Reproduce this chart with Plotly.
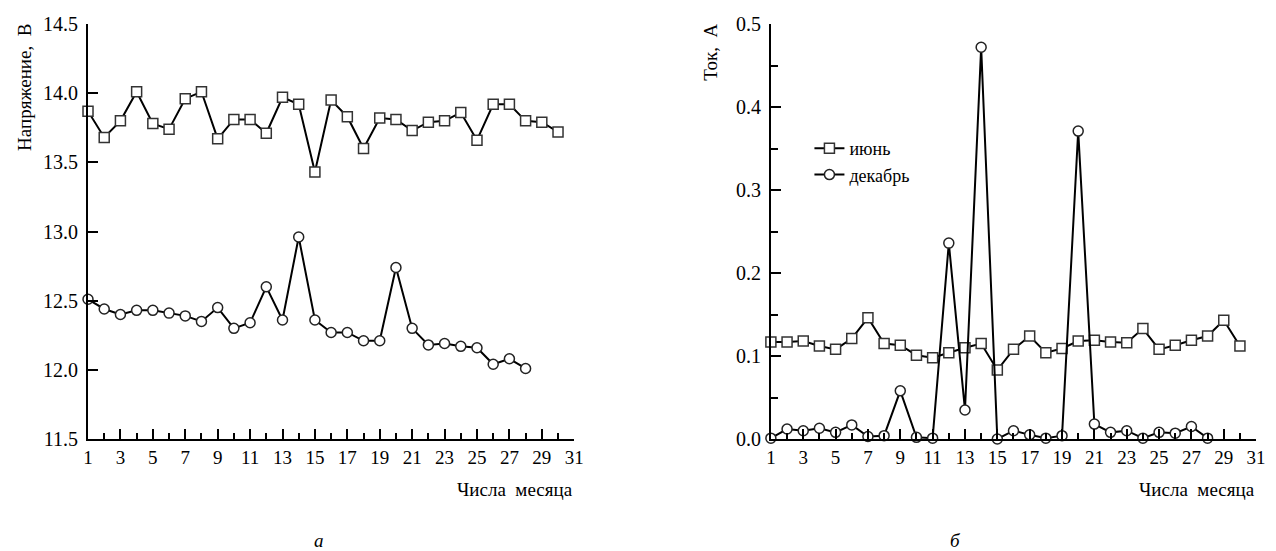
import plotly.graph_objects as go

# ---------------- data ----------------
days_v_jun = list(range(1, 31))
volt_jun = [13.87, 13.68, 13.80, 14.01, 13.78, 13.74, 13.96, 14.01, 13.67, 13.81,
            13.81, 13.71, 13.97, 13.92, 13.43, 13.95, 13.83, 13.60, 13.82, 13.81,
            13.73, 13.79, 13.80, 13.86, 13.66, 13.92, 13.92, 13.80, 13.79, 13.72]
days_v_dec = list(range(1, 29))
volt_dec = [12.51, 12.44, 12.40, 12.43, 12.43, 12.41, 12.39, 12.35, 12.45, 12.30,
            12.34, 12.60, 12.36, 12.96, 12.36, 12.27, 12.27, 12.21, 12.21, 12.74,
            12.30, 12.18, 12.19, 12.17, 12.16, 12.04, 12.08, 12.01]

days_i_jun = list(range(1, 31))
cur_jun = [0.117, 0.117, 0.118, 0.112, 0.108, 0.121, 0.146, 0.115, 0.113, 0.101,
           0.098, 0.104, 0.110, 0.115, 0.083, 0.108, 0.124, 0.104, 0.109, 0.118,
           0.119, 0.117, 0.116, 0.133, 0.108, 0.113, 0.119, 0.124, 0.143, 0.112]
days_i_dec = list(range(1, 29))
cur_dec = [0.001, 0.012, 0.010, 0.013, 0.008, 0.017, 0.003, 0.004, 0.058, 0.002,
           0.001, 0.236, 0.035, 0.472, 0.000, 0.010, 0.005, 0.001, 0.004, 0.371,
           0.018, 0.008, 0.010, 0.001, 0.008, 0.007, 0.015, 0.001]

x_ticks = list(range(1, 32, 2))
name_jun = "июнь"
name_dec = "декабрь"

# ---------------- figure ----------------
W, H = 1276, 551
TOP, BOT = 24, 439
FONT = "Liberation Serif, Times New Roman, serif"
line = dict(color="black", width=2)
sq = dict(symbol="square", size=10, color="white", line=dict(color="#333", width=1.5))
ci = dict(symbol="circle", size=10, color="white", line=dict(color="#222", width=1.5))

fig = go.Figure()
fig.add_trace(go.Scatter(x=days_v_jun, y=volt_jun, mode="lines+markers", line=line, marker=sq,
                         xaxis="x", yaxis="y", showlegend=False, cliponaxis=False))
fig.add_trace(go.Scatter(x=days_v_dec, y=volt_dec, mode="lines+markers", line=line, marker=ci,
                         xaxis="x", yaxis="y", showlegend=False, cliponaxis=False))
fig.add_trace(go.Scatter(x=days_i_jun, y=cur_jun, mode="lines+markers", line=line, marker=sq,
                         xaxis="x2", yaxis="y2", name=name_jun, cliponaxis=False))
fig.add_trace(go.Scatter(x=days_i_dec, y=cur_dec, mode="lines+markers", line=line, marker=ci,
                         xaxis="x2", yaxis="y2", name=name_dec, cliponaxis=False))

def px_x(p):
    return p / W

def px_y(p):
    # paper coords span the plot area (inside margins)
    return (BOT - p) / (BOT - TOP)

xaxis_common = dict(range=[1, 31], tickvals=x_ticks, ticks="inside", ticklen=10, tickwidth=1.5,
                    tickcolor="black", showline=True, linecolor="black", linewidth=2,
                    showgrid=False, zeroline=False, tickfont=dict(family=FONT, size=19, color="black"),
                    minor=dict(dtick=1, tick0=1, ticks="inside", ticklen=6, tickwidth=1.5,
                               tickcolor="black", showgrid=False))
yaxis_common = dict(ticks="inside", ticklen=10, tickwidth=1.5, tickcolor="black",
                    showline=True, linecolor="black", linewidth=2, showgrid=False,
                    zeroline=False, tickfont=dict(family=FONT, size=20, color="black"),
                    tickformat=".1f", ticklabelstandoff=4)

fig.update_layout(
    width=W, height=H,
    margin=dict(l=0, r=0, t=TOP, b=H - BOT),
    paper_bgcolor="white", plot_bgcolor="white",
    font=dict(family=FONT, color="black"),
    xaxis=dict(domain=[px_x(84), px_x(576)], anchor="y", **xaxis_common),
    yaxis=dict(domain=[0, 1], anchor="x", range=[11.5, 14.5], dtick=0.5, tick0=11.5, **yaxis_common),
    xaxis2=dict(domain=[px_x(775), px_x(1266)], anchor="y2", **xaxis_common),
    yaxis2=dict(domain=[0, 1], anchor="x2", range=[0, 0.5], dtick=0.1, tick0=0,
                minor=dict(dtick=0.05, tick0=0, ticks="inside", ticklen=7, tickwidth=1.5,
                           tickcolor="black", showgrid=False),
                **yaxis_common),
    legend=dict(x=px_x(814), y=px_y(130), xanchor="left", yanchor="top",
                font=dict(family=FONT, size=18, color="black"), bgcolor="rgba(0,0,0,0)",
                itemwidth=30, tracegroupgap=0),
    showlegend=True,
)

ann_font = dict(family=FONT, size=19, color="black")
fig.add_annotation(text="Напряжение,  В", x=px_x(7), y=px_y(22), xref="paper", yref="paper",
                   xanchor="left", yanchor="top", textangle=-90, showarrow=False, font=ann_font)
fig.add_annotation(text="Ток,  А", x=px_x(701), y=px_y(22), xref="paper", yref="paper",
                   xanchor="left", yanchor="top", textangle=-90, showarrow=False, font=ann_font)
fig.add_annotation(text="Числа  месяца", x=px_x(577), y=px_y(489), xref="paper", yref="paper",
                   xanchor="right", yanchor="middle", showarrow=False, font=ann_font)
fig.add_annotation(text="Числа  месяца", x=px_x(1267), y=px_y(489), xref="paper", yref="paper",
                   xanchor="right", yanchor="middle", showarrow=False, font=ann_font)
fig.add_annotation(text="<i>а</i>", x=px_x(318), y=px_y(540), xref="paper", yref="paper",
                   xanchor="center", yanchor="middle", showarrow=False, font=ann_font)
fig.add_annotation(text="<i>б</i>", x=px_x(962), y=px_y(540), xref="paper", yref="paper",
                   xanchor="center", yanchor="middle", showarrow=False, font=ann_font)

fig.write_html("out.html")
